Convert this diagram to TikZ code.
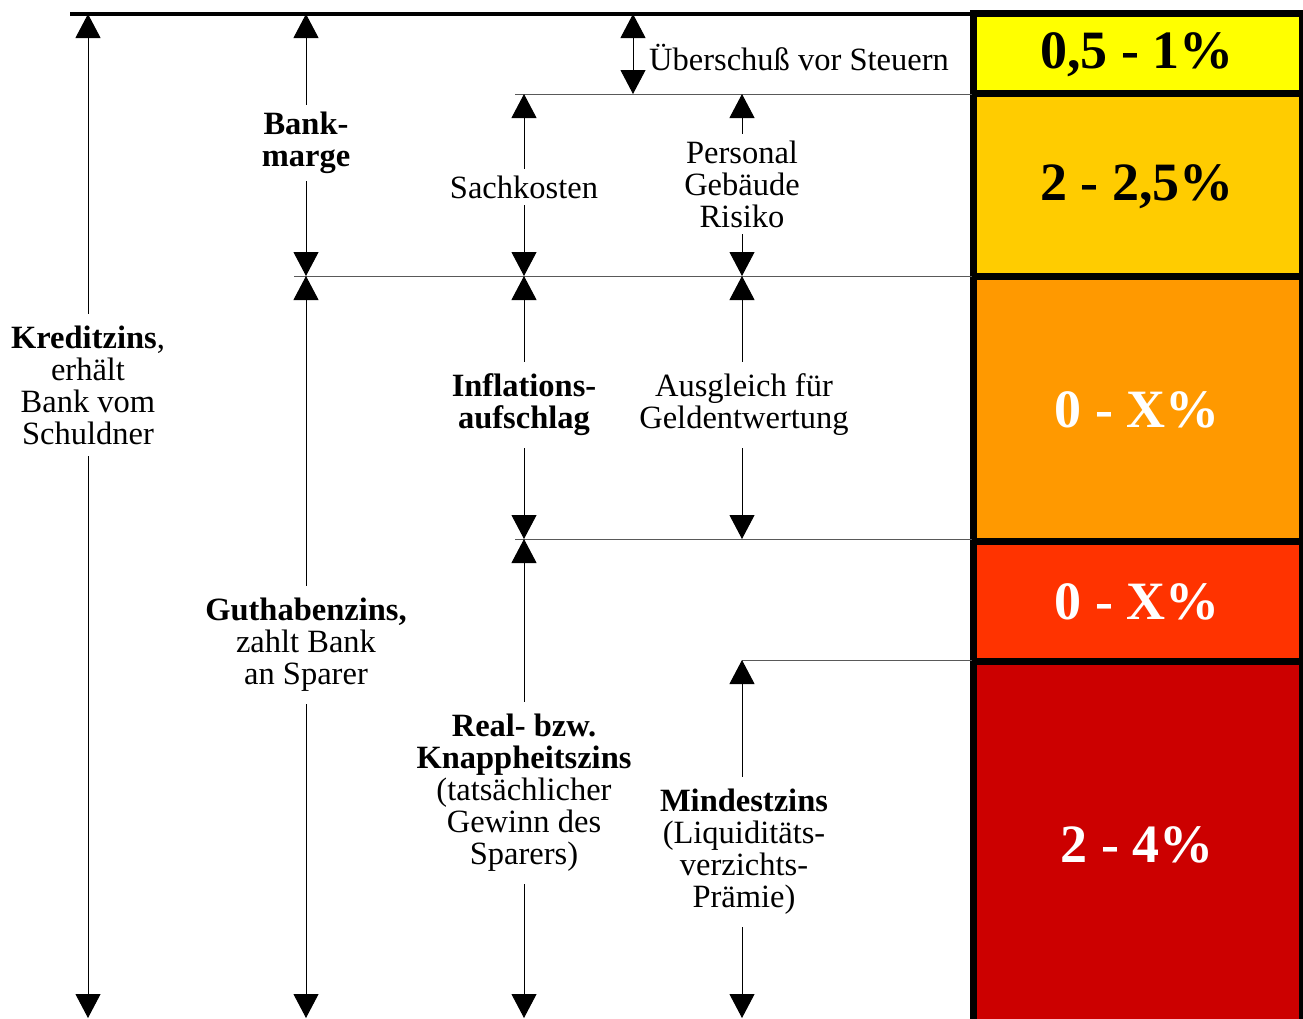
\documentclass[tikz,border=0pt]{standalone}
\usepackage{fontspec}
\setmainfont{Liberation Serif}
\usetikzlibrary{arrows.meta}

\definecolor{satzA}{HTML}{FFFF00}
\definecolor{satzB}{HTML}{FFCC00}
\definecolor{satzC}{HTML}{FF9900}
\definecolor{satzD}{HTML}{FF3300}
\definecolor{satzE}{HTML}{CC0000}

\tikzset{
  dimboth/.style={{Triangle[length=24pt,width=25pt]}-{Triangle[length=24pt,width=25pt]}, line width=1pt},
  level/.style={line width=1pt, black!65},
  lbl/.style={fill=white, align=center, inner sep=7pt, font=\fontsize{32.5}{32}\selectfont},
  satzbox/.style={line width=7pt, draw=black},
  satztext/.style={font=\fontsize{54}{60}\selectfont\bfseries}
}

\begin{document}
\begin{tikzpicture}[x=1pt, y=-1pt]

	\clip (0,0) rectangle (1303,1018);
	\fill[white] (0,0) rectangle (1303,1018);

	% columns and levels
	\coordinate (kx) at (88,0);
	\coordinate (gx) at (306,0);
	\coordinate (sx) at (524,0);
	\coordinate (ux) at (633,0);
	\coordinate (px) at (742,0);
	\coordinate (cx) at (972,0);

	\coordinate (top) at (70,14);
	\coordinate (ls) at (515,94);
	\coordinate (lb) at (294,276);
	\coordinate (li) at (515,539);
	\coordinate (lm) at (742,660);
	\coordinate (bot) at (0,1018);

	% the column of rates
	\filldraw[satzbox, fill=satzA] (973.5,13.5) rectangle (1302,93.5);
	\filldraw[satzbox, fill=satzB] (973.5,93.5) rectangle (1302,276.5);
	\filldraw[satzbox, fill=satzC] (973.5,276.5) rectangle (1302,541);
	\filldraw[satzbox, fill=satzD] (973.5,541) rectangle (1302,661);
	\filldraw[satzbox, fill=satzE] (973.5,661) rectangle (1302,1040);

	\node[satztext] (rA) at (1137,55) {0,5 - 1\%};
	\node[satztext] (rB) at (1137,187) {2 - 2,5\%};
	\node[satztext, white] (rC) at (1137,410) {0 - X\%};
	\node[satztext, white] (rD) at (1137,602) {0 - X\%};
	\node[satztext, white] (rE) at (1137,845) {2 - 4\%};

	% level lines
	\draw[line width=3.5pt] (top) -- (top -| cx);
	\draw[level] (ls) -- (ls -| cx);
	\draw[level] (lb) -- (lb -| cx);
	\draw[level] (li) -- (li -| cx);
	\draw[level] (lm) -- (lm -| cx);

	% arrows
	\draw[dimboth] (kx |- top) -- (kx |- bot);
	\draw[dimboth] (gx |- top) -- (gx |- lb);
	\draw[dimboth] (gx |- lb) -- (gx |- bot);
	\draw[dimboth] (ux |- top) -- (ux |- ls);
	\draw[dimboth] (sx |- ls) -- (sx |- lb);
	\draw[dimboth] (sx |- lb) -- (sx |- li);
	\draw[dimboth] (sx |- li) -- (sx |- bot);
	\draw[dimboth] (px |- ls) -- (px |- lb);
	\draw[dimboth] (px |- lb) -- (px |- li);
	\draw[dimboth] (px |- lm) -- (px |- bot);

	% labels
	\node[lbl, fill=none, anchor=west] (ueb) at (642,57) {Überschuß vor Steuern};
	\node[lbl] (bank) at (306,143) {\bfseries Bank-\\\bfseries marge};
	\node[lbl] (sach) at (524,187) {Sachkosten};
	\node[lbl] (pers) at (742,184) {Personal\\Gebäude\\Risiko};
	\node[lbl, inner sep=12pt] (kred) at (88,385) {{\bfseries Kreditzins},\\erhält\\Bank vom\\Schuldner};
	\node[lbl, inner sep=12pt] (infl) at (524,405) {\bfseries Inflations-\\\bfseries aufschlag};
	\node[lbl, inner sep=12pt] (ausg) at (744,405) {Ausgleich für\\Geldentwertung};
	\node[lbl, inner sep=12pt] (guth) at (306,645) {\bfseries Guthabenzins,\\zahlt Bank\\an Sparer};
	\node[lbl, inner sep=12pt] (real) at (524,793) {\bfseries Real- bzw.\\\bfseries Knappheitszins\\(tatsächlicher\\Gewinn des\\Sparers)};
	\node[lbl, inner sep=12pt] (mind) at (744,852) {\bfseries Mindestzins\\(Liquiditäts-\\verzichts-\\Prämie)};

\end{tikzpicture}
\end{document}
